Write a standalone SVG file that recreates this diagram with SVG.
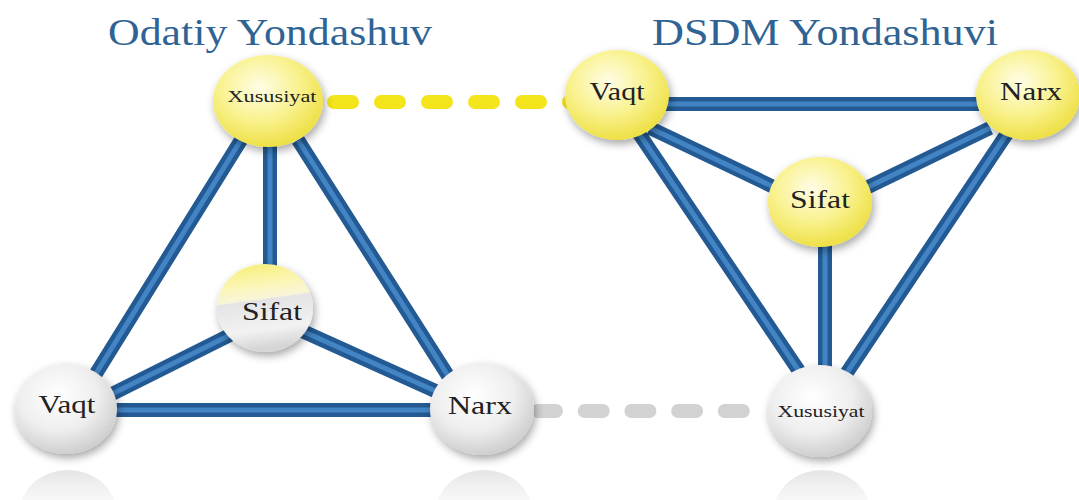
<svg xmlns="http://www.w3.org/2000/svg" width="1079" height="500" viewBox="0 0 1079 500">
<defs>
<radialGradient id="gy" cx="42%" cy="35%" r="65%">
<stop offset="0" stop-color="#fffde6"/>
<stop offset="0.55" stop-color="#f9f290"/>
<stop offset="1" stop-color="#eee046"/>
</radialGradient>
<radialGradient id="gg" cx="42%" cy="35%" r="65%">
<stop offset="0" stop-color="#ffffff"/>
<stop offset="0.6" stop-color="#eeeeee"/>
<stop offset="1" stop-color="#cfcfcf"/>
</radialGradient>
<linearGradient id="gmix" x1="0" y1="0" x2="0.15" y2="1">
<stop offset="0" stop-color="#f6ee70"/>
<stop offset="0.3" stop-color="#fbf6b8"/>
<stop offset="0.45" stop-color="#f8f5d8"/>
<stop offset="0.47" stop-color="#e4e4e4"/>
<stop offset="0.8" stop-color="#f2f2f2"/>
<stop offset="1" stop-color="#d6d6d6"/>
</linearGradient>
<linearGradient id="gref" x1="0" y1="0" x2="0" y2="1">
<stop offset="0" stop-color="#dcdcdc" stop-opacity="0.75"/>
<stop offset="0.5" stop-color="#f4f4f4" stop-opacity="0.3"/>
<stop offset="1" stop-color="#ffffff" stop-opacity="0"/>
</linearGradient>
<filter id="sh" x="-30%" y="-30%" width="160%" height="170%">
<feDropShadow dx="2" dy="4" stdDeviation="4" flood-color="#000" flood-opacity="0.35"/>
</filter>
</defs>
<style>
.title{font-family:"Liberation Serif","Times New Roman",serif;font-size:38px;fill:#2f6394;text-anchor:middle}
.lbl{font-family:"Liberation Serif","Times New Roman",serif;font-size:26px;fill:#222222;text-anchor:middle}
.lbs{font-family:"Liberation Serif","Times New Roman",serif;font-size:17px;fill:#222222;text-anchor:middle}
.eo{stroke:#235a93;stroke-width:14;fill:none}
.ei{stroke:#4284c4;stroke-width:5;fill:none}
.dy{stroke:#f4e41c;stroke-width:14;stroke-linecap:round;stroke-dasharray:18 29;fill:none}
.dg{stroke:#d2d2d2;stroke-width:14;stroke-linecap:round;stroke-dasharray:18 28.7;fill:none}
.y{fill:url(#gy);filter:url(#sh)}
.g{fill:url(#gg);filter:url(#sh)}
.ref{fill:url(#gref)}
</style>
<rect width="1079" height="500" fill="#ffffff"/>
<text class="title" x="270" y="45" textLength="324" lengthAdjust="spacingAndGlyphs">Odatiy Yondashuv</text>
<text class="title" x="825" y="45" textLength="346" lengthAdjust="spacingAndGlyphs">DSDM Yondashuvi</text>
<g id="reflections">
<ellipse class="ref" cx="68" cy="512" rx="48" ry="42"/>
<ellipse class="ref" cx="484" cy="512" rx="48" ry="42"/>
<ellipse class="ref" cx="822" cy="512" rx="48" ry="42"/>
</g>
<g id="connectors">
<line class="dy" x1="334" y1="102" x2="570" y2="102"/>
<line class="dg" x1="538" y1="411" x2="770" y2="411"/>
<g class="blue">
<path class="eo" d="M241 140 L92 380 M270 140 L270 275 M298 140 L452 382 M110 395 L230 335 M300 330 L442 394 M110 410 L440 410 M660 104 L990 104 M650 128 L780 190 M990 128 L862 190 M638 132 L805 380 M1008 132 L842 380 M825 240 L825 372"/>
<path class="ei" d="M241 140 L92 380 M270 140 L270 275 M298 140 L452 382 M110 395 L230 335 M300 330 L442 394 M110 410 L440 410 M660 104 L990 104 M650 128 L780 190 M990 128 L862 190 M638 132 L805 380 M1008 132 L842 380 M825 240 L825 372"/>
</g>
</g>
<g id="node-l-xususiyat"><ellipse class="y" cx="268" cy="101" rx="55" ry="46"/><text class="lbs" x="272" y="102" textLength="89" lengthAdjust="spacingAndGlyphs">Xususiyat</text></g>
<g id="node-l-sifat"><ellipse cx="265" cy="308" rx="48" ry="44" fill="url(#gmix)" filter="url(#sh)"/><text class="lbl" x="272" y="320" textLength="60" lengthAdjust="spacingAndGlyphs">Sifat</text></g>
<g id="node-l-vaqt"><ellipse class="g" cx="66" cy="409" rx="51" ry="45"/><text class="lbl" x="67" y="413" textLength="57" lengthAdjust="spacingAndGlyphs">Vaqt</text></g>
<g id="node-l-narx"><ellipse class="g" cx="482" cy="409" rx="52" ry="46"/><text class="lbl" x="480" y="414" textLength="64" lengthAdjust="spacingAndGlyphs">Narx</text></g>
<g id="node-r-vaqt"><ellipse class="y" cx="617" cy="95" rx="52" ry="45"/><text class="lbl" x="617" y="100" textLength="55" lengthAdjust="spacingAndGlyphs">Vaqt</text></g>
<g id="node-r-narx"><ellipse class="y" cx="1028" cy="95" rx="52" ry="45"/><text class="lbl" x="1031" y="100" textLength="62" lengthAdjust="spacingAndGlyphs">Narx</text></g>
<g id="node-r-sifat"><ellipse class="y" cx="820" cy="202" rx="52" ry="45"/><text class="lbl" x="820" y="208" textLength="60" lengthAdjust="spacingAndGlyphs">Sifat</text></g>
<g id="node-r-xususiyat"><ellipse class="g" cx="820" cy="411" rx="52" ry="46"/><text class="lbs" x="821" y="417" textLength="87" lengthAdjust="spacingAndGlyphs">Xususiyat</text></g>
</svg>
